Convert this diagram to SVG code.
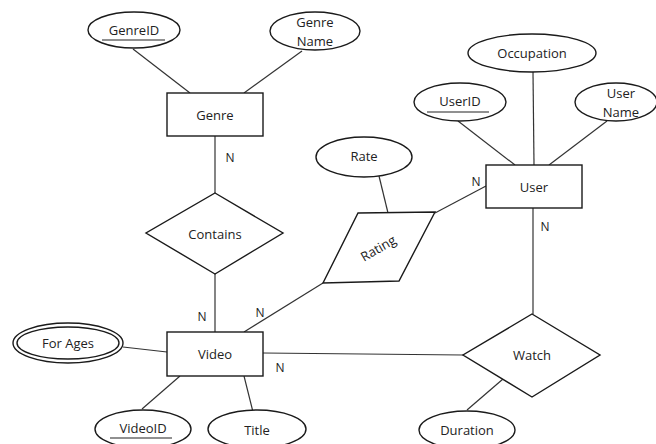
<svg xmlns="http://www.w3.org/2000/svg" width="656" height="444" viewBox="0 0 656 444">
<style>
.s{fill:#fff;stroke:#1a1a1a;stroke-width:1.4}
.l{stroke:#333;stroke-width:1.2;fill:none}
.t{font-family:"Open Sans","Noto Sans",sans-serif;font-size:13px;fill:#222;text-anchor:middle;dominant-baseline:central}
.n{font-family:"Open Sans","Noto Sans",sans-serif;font-size:12px;fill:#222;text-anchor:middle;dominant-baseline:central}
.u{stroke:#222;stroke-width:1.2}
</style>
<rect width="656" height="444" fill="#fff"/>
<g id="connectors">
<line class="l" x1="133" y1="49" x2="190" y2="93"/>
<line class="l" x1="302" y1="51" x2="244" y2="93"/>
<line class="l" x1="215" y1="136" x2="215" y2="193"/>
<line class="l" x1="215" y1="274" x2="215" y2="332"/>
<line class="l" x1="123" y1="347" x2="167" y2="352"/>
<line class="l" x1="180" y1="376" x2="142" y2="409"/>
<line class="l" x1="244" y1="376" x2="253" y2="412"/>
<line class="l" x1="263" y1="353" x2="463" y2="355"/>
<line class="l" x1="503" y1="379" x2="467" y2="410"/>
<line class="l" x1="533" y1="208" x2="533" y2="314"/>
<line class="l" x1="533" y1="72" x2="534" y2="165"/>
<line class="l" x1="458" y1="121" x2="515" y2="165"/>
<line class="l" x1="607" y1="121" x2="549" y2="165"/>
<line class="l" x1="379" y1="176" x2="388" y2="213"/>
<line class="l" x1="435" y1="213" x2="486" y2="186"/>
<line class="l" x1="323" y1="283" x2="244" y2="332"/>
<text class="n" x="230" y="157">N</text>
<text class="n" x="202" y="316">N</text>
<text class="n" x="260" y="312">N</text>
<text class="n" x="280" y="367">N</text>
<text class="n" x="476" y="181">N</text>
<text class="n" x="545" y="226">N</text>
</g>
<g id="genreid"><ellipse class="s" cx="134" cy="30" rx="46" ry="18"/><text class="t" x="134" y="30">GenreID</text><line class="u" x1="102" y1="40" x2="165" y2="40"/></g>
<g id="genrename"><ellipse class="s" cx="315" cy="31" rx="45" ry="19"/><text class="t" x="315" y="22">Genre</text><text class="t" x="315" y="41">Name</text></g>
<g id="genre"><rect class="s" x="167" y="93" width="96" height="43"/><text class="t" x="215" y="115">Genre</text></g>
<g id="contains"><polygon class="s" points="215,193 283,233 215,274 146,233"/><text class="t" x="215" y="234">Contains</text></g>
<g id="video"><rect class="s" x="167" y="332" width="96" height="44"/><text class="t" x="215" y="354">Video</text></g>
<g id="forages"><ellipse class="s" cx="68" cy="343" rx="55" ry="20"/><ellipse class="s" cx="68" cy="343" rx="51" ry="16"/><text class="t" x="68" y="343">For Ages</text></g>
<g id="videoid"><ellipse class="s" cx="143" cy="429" rx="48" ry="19"/><text class="t" x="143" y="428">VideoID</text><line class="u" x1="110" y1="438" x2="172" y2="438"/></g>
<g id="title"><ellipse class="s" cx="257" cy="429" rx="49" ry="19"/><text class="t" x="257" y="430">Title</text></g>
<g id="watch"><polygon class="s" points="532,314 600,355 532,397 463,355"/><text class="t" x="532" y="355">Watch</text></g>
<g id="duration"><ellipse class="s" cx="467" cy="430" rx="48" ry="19"/><text class="t" x="467" y="430">Duration</text></g>
<g id="user"><rect class="s" x="486" y="165" width="96" height="43"/><text class="t" x="534" y="187">User</text></g>
<g id="occupation"><ellipse class="s" cx="532" cy="53" rx="64" ry="19"/><text class="t" x="532" y="53">Occupation</text></g>
<g id="userid"><ellipse class="s" cx="460" cy="102" rx="46" ry="19"/><text class="t" x="460" y="101">UserID</text><line class="u" x1="427" y1="112" x2="489" y2="112"/></g>
<g id="username"><ellipse class="s" cx="616" cy="102" rx="41" ry="19"/><text class="t" x="621" y="93">User</text><text class="t" x="621" y="112">Name</text></g>
<g id="rate"><ellipse class="s" cx="364" cy="157" rx="48" ry="20"/><text class="t" x="364" y="156">Rate</text></g>
<g id="rating"><polygon class="s" points="358,213 435,212 399,281 323,283"/><text class="t" x="378" y="248" transform="rotate(-30 378 248)">Rating</text></g>
</svg>
